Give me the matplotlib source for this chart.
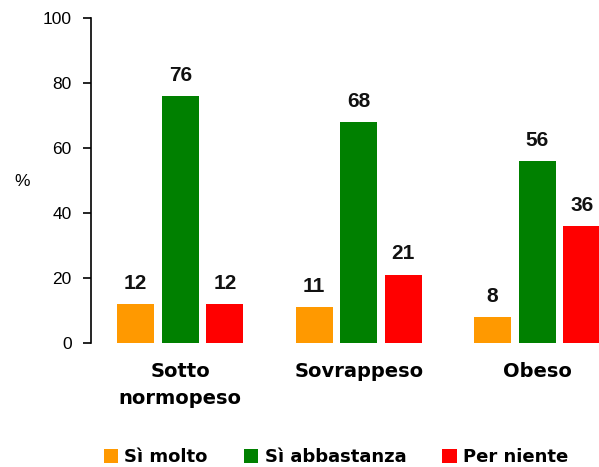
import matplotlib
matplotlib.use("Agg")
import matplotlib.pyplot as plt
from matplotlib.patches import Patch
import numpy as np

categories = ["Sotto\nnormopeso", "Sovrappeso", "Obeso"]
series_names = ["Sì molto", "Sì abbastanza", "Per niente"]
si_molto = [12, 11, 8]
si_abbastanza = [76, 68, 56]
per_niente = [12, 21, 36]
colors = ["#FF9900", "#008000", "#FF0000"]

W, H = 599, 467
fig = plt.figure(figsize=(W / 100, H / 100), dpi=100)
ax = fig.add_axes([91 / W, (H - 343) / H, 535.5 / W, 325 / H])

x = np.arange(len(categories))
stride = 0.25
width = 0.207
series = [si_molto, si_abbastanza, per_niente]
for i, (vals, col) in enumerate(zip(series, colors)):
    pos = x + (i - 1) * stride
    ax.bar(pos, vals, width=width, color=col, clip_on=False)
    for xp, v in zip(pos, vals):
        ax.annotate(str(v), (xp, v), xytext=(0, 11), textcoords="offset points",
                    ha="center", va="baseline", fontsize=15, fontweight="bold",
                    family="Liberation Sans", color="#111111", annotation_clip=False)

ax.set_xlim(-0.5, 2.5)
ax.set_ylim(0, 100)
ax.set_yticks([0, 20, 40, 60, 80, 100])
ax.tick_params(axis="y", direction="out", length=6, width=1.2, pad=8,
               labelsize=12.5, colors="black")
for lab in ax.get_yticklabels():
    lab.set_family("Liberation Sans")
ax.set_xticks(x)
ax.set_xticklabels(categories, fontsize=14, fontweight="bold", family="DejaVu Sans",
                   linespacing=1.5)
ax.tick_params(axis="x", length=0, pad=14)
for s in ["top", "right", "bottom"]:
    ax.spines[s].set_visible(False)
ax.spines["left"].set_linewidth(1.2)

fig.text(22 / W, 1 - 182 / H, "%", ha="center", va="center", fontsize=12.5,
         family="Liberation Sans")

handles = [Patch(facecolor=c, edgecolor="none") for c in colors]
fig.legend(handles, series_names, loc="center", bbox_to_anchor=(336 / W, 10 / H),
           ncol=3, frameon=False, handlelength=0.8, handleheight=0.8,
           handletextpad=0.35, columnspacing=2.0,
           prop={"family": "DejaVu Sans", "weight": "bold", "size": 13})

fig.savefig("out.png", dpi=100)
